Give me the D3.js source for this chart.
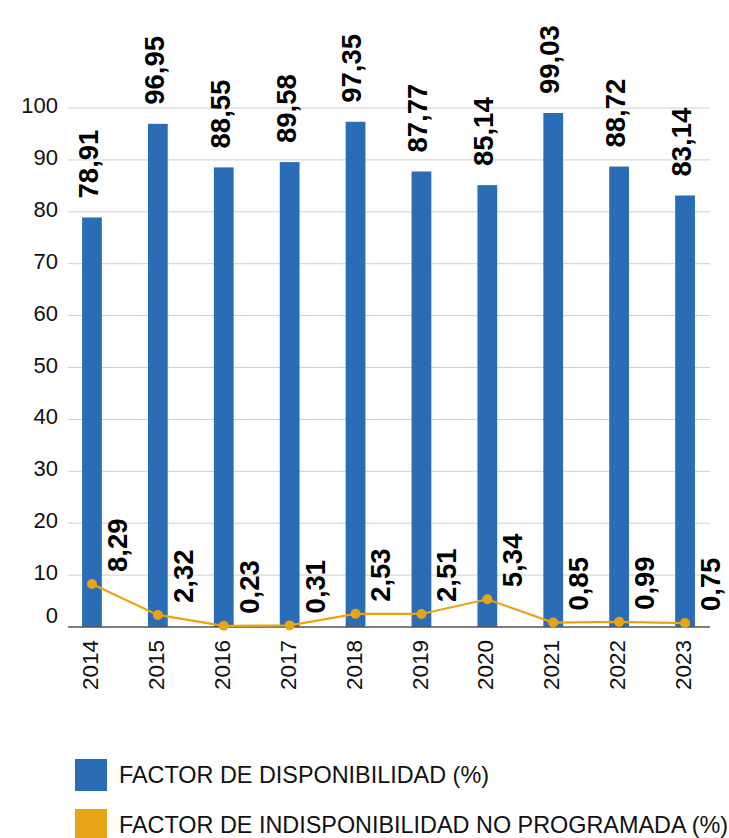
<!DOCTYPE html>
<html>
<head>
<meta charset="utf-8">
<script src="https://cdn.jsdelivr.net/npm/d3@7"></script>
<style>
  html, body { margin: 0; padding: 0; background: #fff; }
  svg { display: block; font-family: "Liberation Sans", Arial, Helvetica, sans-serif; }
</style>
</head>
<body>
<svg id="chart" width="729" height="838"></svg>
<script>
// Availability factor per year (%)
const years = ["2014", "2015", "2016", "2017", "2018", "2019", "2020", "2021", "2022", "2023"];
const disponibilidad = [78.91, 96.95, 88.55, 89.58, 97.35, 87.77, 85.14, 99.03, 88.72, 83.14];
const indisponibilidad = [8.29, 2.32, 0.23, 0.31, 2.53, 2.51, 5.34, 0.85, 0.99, 0.75];
const yTicks = [0, 10, 20, 30, 40, 50, 60, 70, 80, 90, 100];
const legendLabels = ["FACTOR DE DISPONIBILIDAD (%)", "FACTOR DE INDISPONIBILIDAD NO PROGRAMADA (%)"];

const BLUE = "#2a6cb5";
const ORANGE = "#e9a413";

const svg = d3.select("#chart");
const fmt = v => d3.format(".2f")(v).replace(".", ",");

const x = d3.scaleBand().domain(years).range([59, 718]).paddingInner(0.7).paddingOuter(0.35);
const y = d3.scaleLinear().domain([0, 100]).range([627, 108]);
const cx = d => x(d) + x.bandwidth() / 2;
const gridX0 = 68, gridX1 = 710;

// horizontal gridlines
svg.append("g").selectAll("line").data(yTicks.filter(t => t > 0)).join("line")
  .attr("x1", gridX0).attr("x2", gridX1)
  .attr("y1", d => y(d)).attr("y2", d => y(d))
  .attr("stroke", "#cfcfcf").attr("stroke-width", 1);

// y tick labels
svg.append("g").selectAll("text").data(yTicks).join("text")
  .attr("x", 58)
  .attr("y", d => y(d) + (d === 0 ? -12 : -2.5))
  .attr("dominant-baseline", "central")
  .attr("text-anchor", "end")
  .attr("font-size", 22)
  .attr("fill", "#111")
  .text(d => d);

// bars
svg.append("g").selectAll("rect").data(years).join("rect")
  .attr("x", d => x(d))
  .attr("width", x.bandwidth())
  .attr("y", (d, i) => y(disponibilidad[i]))
  .attr("height", (d, i) => y(0) - y(disponibilidad[i]))
  .attr("fill", BLUE);

// baseline
svg.append("line")
  .attr("x1", gridX0).attr("x2", gridX1)
  .attr("y1", y(0)).attr("y2", y(0))
  .attr("stroke", "#555").attr("stroke-width", 1.5);

// unplanned unavailability line
const line = d3.line().x((d, i) => cx(years[i])).y(d => y(d));
svg.append("path").datum(indisponibilidad)
  .attr("d", line)
  .attr("fill", "none")
  .attr("stroke", ORANGE)
  .attr("stroke-width", 2.2);
svg.append("g").selectAll("circle").data(indisponibilidad).join("circle")
  .attr("cx", (d, i) => cx(years[i]))
  .attr("cy", d => y(d))
  .attr("r", 5)
  .attr("fill", ORANGE);

// bar value labels (rotated)
const valSize = 27.5;
svg.append("g").selectAll("text").data(disponibilidad).join("text")
  .attr("transform", (d, i) => `translate(${cx(years[i]) - 4 + 0.36 * valSize},${y(d) - 19}) rotate(-90)`)
  .attr("text-anchor", "start")
  .attr("font-size", valSize)
  .attr("font-weight", "bold")
  .attr("fill", "#000")
  .text(d => fmt(d));

// line value labels (rotated)
svg.append("g").selectAll("text").data(indisponibilidad).join("text")
  .attr("transform", (d, i) => `translate(${cx(years[i]) + 25 + 0.36 * valSize},${y(d) - 12}) rotate(-90)`)
  .attr("text-anchor", "start")
  .attr("font-size", valSize)
  .attr("font-weight", "bold")
  .attr("fill", "#000")
  .text(d => fmt(d));

// x axis labels (rotated years)
svg.append("g").selectAll("text").data(years).join("text")
  .attr("transform", d => `translate(${cx(d) - 2 + 0.36 * 22.5},640) rotate(-90)`)
  .attr("text-anchor", "end")
  .attr("font-size", 22.5)
  .attr("fill", "#111")
  .text(d => d);

// legend
const legend = svg.append("g").selectAll("g").data(legendLabels).join("g")
  .attr("transform", (d, i) => `translate(75,${759 + i * 50})`);
legend.append("rect")
  .attr("width", 32).attr("height", 32)
  .attr("fill", (d, i) => i === 0 ? BLUE : ORANGE);
legend.append("text")
  .attr("x", 44).attr("y", 23.5)
  .attr("font-size", 23.4)
  .attr("fill", "#111")
  .text(d => d);
</script>
</body>
</html>
